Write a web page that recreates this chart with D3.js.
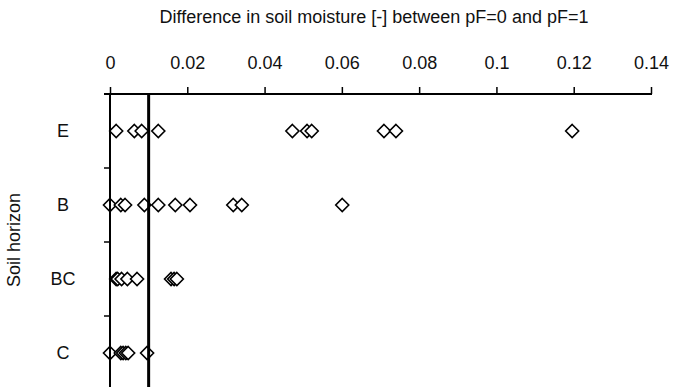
<!DOCTYPE html>
<html>
<head>
<meta charset="utf-8">
<script src="https://cdn.jsdelivr.net/npm/d3@7"></script>
<style>
  body { margin: 0; background: #fff; }
  svg { display: block; font-family: "Liberation Sans", Arial, sans-serif; }
</style>
</head>
<body>
<svg></svg>
<script>
var width = 673;
var height = 387;

// values
var horizons = ["E", "B", "BC", "C"];
var eValues = [0.0016, 0.0063, 0.0082, 0.0125, 0.0472, 0.051, 0.0522, 0.0709, 0.074, 0.1196];
var bValues = [0, 0.0028, 0.0039, 0.0089, 0.0125, 0.0169, 0.0207, 0.0319, 0.0341, 0.0601];
var bcValues = [0.0016, 0.002, 0.003, 0.0045, 0.007, 0.0158, 0.0166, 0.0173];
var cValues = [0, 0.0028, 0.0034, 0.0041, 0.0047, 0.0096];
var xTicks = [0, 0.02, 0.04, 0.06, 0.08, 0.1, 0.12, 0.14];
var threshold = 0.01;

var fontSize = "18px";

var svg = d3.select("svg")
            .attr("width", width)
            .attr("height", height);

var xScale = d3.scaleLinear()
               .domain([0, 0.14])
               .range([110, 651]);

var yScale = d3.scaleBand()
               .domain(horizons)
               .range([94, 390]);

var data = [];
[eValues, bValues, bcValues, cValues].forEach(function(vals, i) {
  vals.forEach(function(v) {
    data.push({ horizon: horizons[i], value: v });
  });
});

// markers
svg.selectAll("path.pt")
  .data(data)
  .enter()
  .append("path")
  .attr("class", "pt")
  .attr("d", "M0,-6.5L6.5,0L0,6.5L-6.5,0Z")
  .attr("transform", function(d) {
    return "translate(" + xScale(d.value) + "," + (yScale(d.horizon) + yScale.bandwidth() / 2) + ")";
  })
  .attr("fill", "#fff")
  .attr("stroke", "#000")
  .attr("stroke-width", 1.6);

// threshold line
svg.append("line")
   .attr("x1", xScale(threshold)).attr("x2", xScale(threshold))
   .attr("y1", yScale.range()[0]).attr("y2", height)
   .attr("stroke", "#000")
   .attr("stroke-width", 3);

// top axis
var xAxis = svg.append("g")
   .attr("transform", "translate(0,94)")
   .call(d3.axisTop(xScale)
           .tickValues(xTicks)
           .tickFormat(function(d) { return d3.format("~g")(d); })
           .tickSizeInner(7)
           .tickSizeOuter(0)
           .tickPadding(18));
xAxis.select(".domain").remove();
xAxis.selectAll(".tick line").attr("stroke", "#000").attr("stroke-width", 1.5);
xAxis.selectAll("text")
     .attr("fill", "#111")
     .style("font-size", fontSize)
     .style("font-family", "Liberation Sans, Arial, sans-serif");
svg.append("line")
   .attr("x1", 104).attr("x2", xScale(0.14) + 1)
   .attr("y1", 94).attr("y2", 94)
   .attr("stroke", "#000").attr("stroke-width", 2);

// left axis
svg.append("line")
   .attr("x1", xScale(0)).attr("x2", xScale(0))
   .attr("y1", 93).attr("y2", height)
   .attr("stroke", "#000").attr("stroke-width", 2);

svg.selectAll("line.ytick")
  .data(horizons.slice(0, 3))
  .enter()
  .append("line")
  .attr("class", "ytick")
  .attr("x1", 104).attr("x2", xScale(0))
  .attr("y1", function(d) { return yScale(d) + yScale.bandwidth(); })
  .attr("y2", function(d) { return yScale(d) + yScale.bandwidth(); })
  .attr("stroke", "#000").attr("stroke-width", 1.5);

svg.selectAll("text.cat")
  .data(horizons)
  .enter()
  .append("text")
  .attr("class", "cat")
  .attr("x", 63)
  .attr("y", function(d) { return yScale(d) + yScale.bandwidth() / 2; })
  .attr("dy", "0.35em")
  .attr("text-anchor", "middle")
  .attr("fill", "#111")
  .style("font-size", fontSize)
  .text(function(d) { return d; });

// titles
svg.append("text")
   .attr("x", 374)
   .attr("y", 17)
   .attr("dy", "0.35em")
   .attr("text-anchor", "middle")
   .attr("fill", "#111")
   .style("font-size", fontSize)
   .text("Difference in soil moisture [-] between pF=0 and pF=1");

svg.append("text")
   .attr("transform", "translate(14,240) rotate(-90)")
   .attr("dy", "0.35em")
   .attr("text-anchor", "middle")
   .attr("fill", "#111")
   .style("font-size", fontSize)
   .text("Soil horizon");
</script>
</body>
</html>
